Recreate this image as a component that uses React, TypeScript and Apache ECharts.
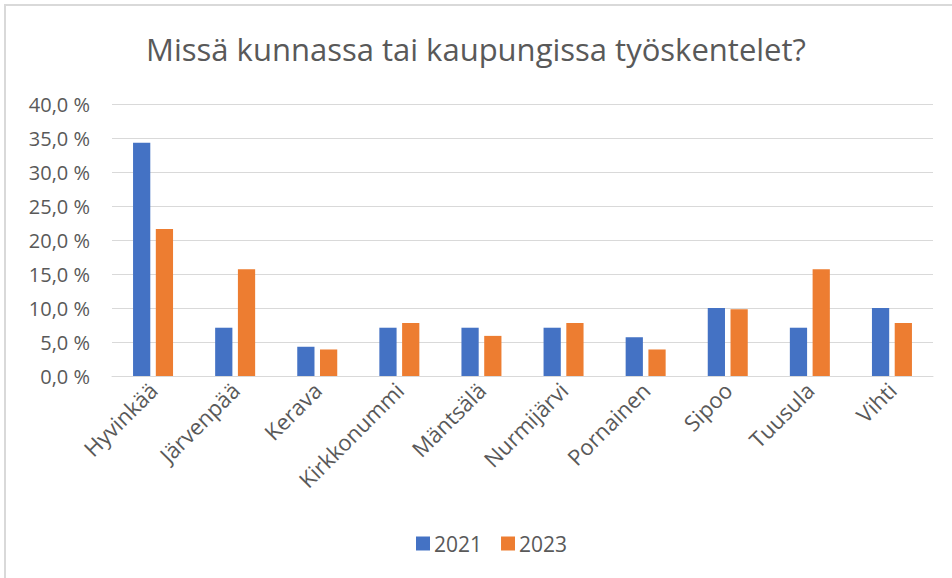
import React, { useEffect, useRef } from "react";
import * as echarts from "echarts";

const categories = ["Hyvinkää", "Järvenpää", "Kerava", "Kirkkonummi", "Mäntsälä", "Nurmijärvi", "Pornainen", "Sipoo", "Tuusula", "Vihti"];
const values2021 = [34.3, 7.1, 4.3, 7.1, 7.1, 7.1, 5.7, 10.0, 7.1, 10.0];
const values2023 = [21.6, 15.7, 3.9, 7.8, 5.9, 7.8, 3.9, 9.8, 15.7, 7.8];
const seriesNames = ["2021", "2023"];
const titleText = "Missä kunnassa tai kaupungissa työskentelet?";

const FONT = "'Open Sans', 'Noto Sans', sans-serif";
const GRAY = "#595959";

export default function App() {
  const ref = useRef<HTMLDivElement>(null);
  useEffect(() => {
    document.body.style.margin = "0";
    const chart = echarts.init(ref.current!, null, { renderer: "svg" });
    chart.setOption({
      animation: false,
      backgroundColor: "#ffffff",
      textStyle: { fontFamily: FONT },
      title: {
        text: titleText,
        left: "center",
        top: 28,
        textStyle: { fontFamily: FONT, fontSize: 31, fontWeight: "normal", color: GRAY },
      },
      graphic: [
        {
          type: "rect",
          shape: { x: 5, y: 5, width: 1000, height: 700 },
          style: { fill: "none", stroke: "#d9d9d9", lineWidth: 2 },
          silent: true,
        },
      ],
      legend: {
        data: seriesNames,
        top: 528,
        left: 411,
        itemWidth: 14,
        itemHeight: 14,
        itemGap: 19,
        icon: "rect",
        textStyle: { fontFamily: FONT, fontSize: 21, color: GRAY, padding: [0, 0, 0, -1] },
      },
      grid: { left: 112, right: 19, top: 104, bottom: 202, containLabel: false },
      xAxis: {
        type: "category",
        data: categories,
        axisTick: { show: false },
        axisLine: { show: true, lineStyle: { color: "#d9d9d9", width: 1 } },
        axisLabel: { rotate: 45, fontFamily: FONT, fontSize: 22, color: GRAY, margin: 10, interval: 0 },
      },
      yAxis: {
        type: "value",
        min: 0,
        max: 40,
        interval: 5,
        axisLine: { show: false },
        axisTick: { show: false },
        splitLine: { lineStyle: { color: "#d9d9d9", width: 1 } },
        axisLabel: {
          fontFamily: FONT,
          fontSize: 20,
          color: GRAY,
          margin: 22,
          formatter: (v: number) => v.toFixed(1).replace(".", ",") + "\u00a0%",
        },
      },
      series: [
        { name: seriesNames[0], type: "bar", data: values2021, itemStyle: { color: "#4472C4" }, barWidth: "21%", barGap: "32%" },
        { name: seriesNames[1], type: "bar", data: values2023, itemStyle: { color: "#ED7D31" }, barWidth: "21%", barGap: "32%" },
      ],
    });
    return () => chart.dispose();
  }, []);
  return <div ref={ref} style={{ width: 952, height: 578, position: "absolute", left: 0, top: 0 }} />;
}
